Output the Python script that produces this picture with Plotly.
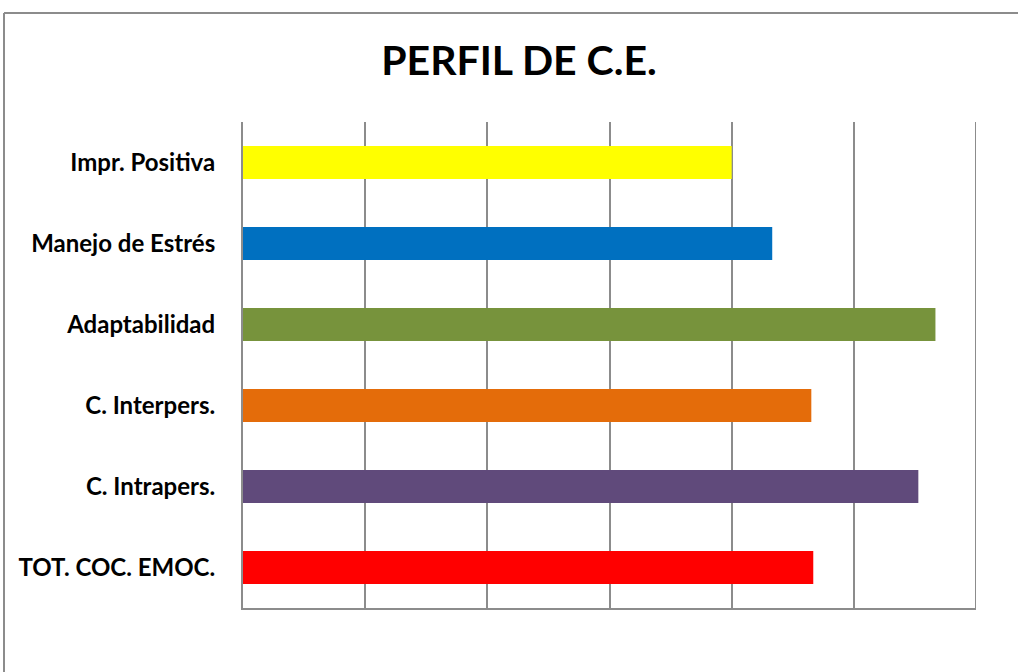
import plotly.graph_objects as go

categories = ["Impr. Positiva", "Manejo de Estrés", "Adaptabilidad",
              "C. Interpers.", "C. Intrapers.", "TOT. COC. EMOC."]
values = [100, 108.3, 141.7, 116.3, 138.2, 116.7]
colors = ["#FFFF00", "#0070C0", "#77933C", "#E46C0A", "#604A7B", "#FF0000"]
x_max = 150
x_step = 25

W, H = 1018, 672
L, R, T, B = 243, 42, 122, 64
pw, ph = W - L - R, H - T - B

fig = go.Figure(go.Bar(
    x=values, y=categories, orientation="h",
    marker=dict(color=colors, line=dict(width=0)),
    hoverinfo="x+y",
))

def px2paper_x(px):
    return (px - L) / pw

def px2paper_y(py):
    return (H - B - py) / ph

grid = "#8c8c8c"
fig.update_layout(
    width=W, height=H,
    margin=dict(l=L, r=R, t=T, b=B, autoexpand=False),
    paper_bgcolor="white", plot_bgcolor="white",
    bargap=0.59,
    showlegend=False,
    title=dict(text="<b>PERFIL DE C.E.</b>", x=519 / W, xref="container", xanchor="center",
               y=1 - 61 / H, yref="container", yanchor="middle",
               font=dict(family="Lato", size=41, color="black")),
    xaxis=dict(range=[0, x_max], dtick=x_step, showticklabels=False, ticks="",
               showgrid=True, gridcolor=grid, gridwidth=2,
               showline=True, linecolor=grid, linewidth=2, zeroline=False,
               fixedrange=True),
    yaxis=dict(autorange="reversed", showgrid=False, ticks="",
               showline=True, linecolor=grid, linewidth=2,
               ticklabelstandoff=21,
               tickfont=dict(family="Lato", size=24, color="black", weight="bold"),
               fixedrange=True),
    shapes=[
        dict(type="line", xref="x", yref="paper",
             x0=x_max, x1=x_max, y0=0, y1=1,
             line=dict(color=grid, width=2), layer="below"),
        dict(type="line", xref="paper", yref="paper",
             x0=px2paper_x(4), x1=px2paper_x(W + 10),
             y0=px2paper_y(13), y1=px2paper_y(13),
             line=dict(color="#8c8c8c", width=2)),
        dict(type="line", xref="paper", yref="paper",
             x0=px2paper_x(4), x1=px2paper_x(4),
             y0=px2paper_y(13), y1=px2paper_y(H + 10),
             line=dict(color="#8c8c8c", width=2)),
    ],
)

fig.write_html("out.html",
               config={"displayModeBar": False},
               post_script="document.body.style.margin='0px';document.body.style.overflow='hidden';")
